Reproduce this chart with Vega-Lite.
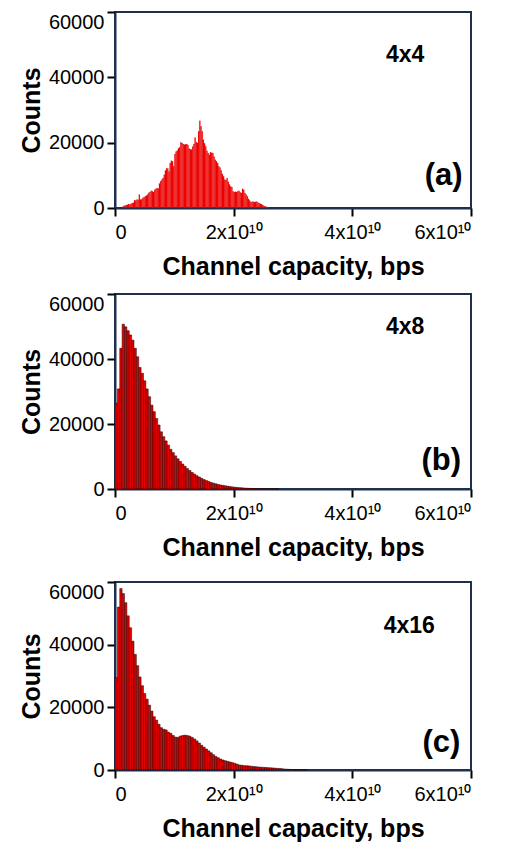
{
  "$schema": "https://vega.github.io/schema/vega-lite/v6.json",
  "padding": {"left": 18, "top": 10, "right": 0, "bottom": 0},
  "config": {
    "font": "Liberation Sans",
    "view": {"stroke": "#1f2f4f", "strokeWidth": 2},
    "axis": {
      "grid": false,
      "domainColor": "#1f2f4f",
      "domainWidth": 2,
      "tickColor": "#000000",
      "tickWidth": 2,
      "tickSize": 8,
      "labelFont": "Liberation Sans",
      "labelFontSize": 20,
      "labelColor": "#000000",
      "titleFont": "Liberation Sans",
      "titleFontSize": 25,
      "titleFontWeight": "bold",
      "titleColor": "#000000"
    },
    "axisX": {"labelPadding": 6, "titlePadding": 12},
    "axisY": {"labelPadding": 3, "titlePadding": 4}
  },
  "datasets": {
    "a": [
      {"lo": 1.2e9, "hi": 1.4e9, "n": 400}, {"lo": 1.4e9, "hi": 1.6e9, "n": 700}, {"lo": 1.6e9, "hi": 1.8e9, "n": 800}, {"lo": 1.8e9, "hi": 2.0e9, "n": 900},
      {"lo": 2.0e9, "hi": 2.2e9, "n": 1000}, {"lo": 2.2e9, "hi": 2.4e9, "n": 1200}, {"lo": 2.4e9, "hi": 2.6e9, "n": 1100}, {"lo": 2.6e9, "hi": 2.8e9, "n": 1300},
      {"lo": 2.8e9, "hi": 3.0e9, "n": 1500}, {"lo": 3.0e9, "hi": 3.2e9, "n": 1600}, {"lo": 3.2e9, "hi": 3.4e9, "n": 2400}, {"lo": 3.4e9, "hi": 3.6e9, "n": 2300},
      {"lo": 3.6e9, "hi": 3.8e9, "n": 2600}, {"lo": 3.8e9, "hi": 4.0e9, "n": 2500}, {"lo": 4.0e9, "hi": 4.2e9, "n": 4100}, {"lo": 4.2e9, "hi": 4.4e9, "n": 2600},
      {"lo": 4.4e9, "hi": 4.6e9, "n": 2700}, {"lo": 4.6e9, "hi": 4.8e9, "n": 3100}, {"lo": 4.8e9, "hi": 5.0e9, "n": 3300}, {"lo": 5.0e9, "hi": 5.2e9, "n": 3600},
      {"lo": 5.2e9, "hi": 5.4e9, "n": 3800}, {"lo": 5.4e9, "hi": 5.6e9, "n": 4100}, {"lo": 5.6e9, "hi": 5.8e9, "n": 4700}, {"lo": 5.8e9, "hi": 6.0e9, "n": 4900},
      {"lo": 6.0e9, "hi": 6.2e9, "n": 5300}, {"lo": 6.2e9, "hi": 6.4e9, "n": 5100}, {"lo": 6.4e9, "hi": 6.6e9, "n": 4900}, {"lo": 6.6e9, "hi": 6.8e9, "n": 5600},
      {"lo": 6.8e9, "hi": 7.0e9, "n": 5900}, {"lo": 7.0e9, "hi": 7.2e9, "n": 6100}, {"lo": 7.2e9, "hi": 7.4e9, "n": 6000}, {"lo": 7.4e9, "hi": 7.6e9, "n": 7500},
      {"lo": 7.6e9, "hi": 7.8e9, "n": 8200}, {"lo": 7.8e9, "hi": 8.0e9, "n": 8700}, {"lo": 8.0e9, "hi": 8.2e9, "n": 9200}, {"lo": 8.2e9, "hi": 8.4e9, "n": 10200},
      {"lo": 8.4e9, "hi": 8.6e9, "n": 11500}, {"lo": 8.6e9, "hi": 8.8e9, "n": 12200}, {"lo": 8.8e9, "hi": 9.0e9, "n": 12100}, {"lo": 9.0e9, "hi": 9.2e9, "n": 11200},
      {"lo": 9.2e9, "hi": 9.4e9, "n": 13800}, {"lo": 9.4e9, "hi": 9.6e9, "n": 14500}, {"lo": 9.6e9, "hi": 9.8e9, "n": 14300}, {"lo": 9.8e9, "hi": 10.0e9, "n": 12800},
      {"lo": 10.0e9, "hi": 10.2e9, "n": 16500}, {"lo": 10.2e9, "hi": 10.4e9, "n": 17300}, {"lo": 10.4e9, "hi": 10.6e9, "n": 17600}, {"lo": 10.6e9, "hi": 10.8e9, "n": 18300},
      {"lo": 10.8e9, "hi": 11.0e9, "n": 18600}, {"lo": 11.0e9, "hi": 11.2e9, "n": 20100}, {"lo": 11.2e9, "hi": 11.4e9, "n": 19900}, {"lo": 11.4e9, "hi": 11.6e9, "n": 19600},
      {"lo": 11.6e9, "hi": 11.8e9, "n": 19400}, {"lo": 11.8e9, "hi": 12.0e9, "n": 19500}, {"lo": 12.0e9, "hi": 12.2e9, "n": 19600}, {"lo": 12.2e9, "hi": 12.4e9, "n": 19300},
      {"lo": 12.4e9, "hi": 12.6e9, "n": 18200}, {"lo": 12.6e9, "hi": 12.8e9, "n": 18000}, {"lo": 12.8e9, "hi": 13.0e9, "n": 17900}, {"lo": 13.0e9, "hi": 13.2e9, "n": 18800},
      {"lo": 13.2e9, "hi": 13.4e9, "n": 19600}, {"lo": 13.4e9, "hi": 13.6e9, "n": 21600}, {"lo": 13.6e9, "hi": 13.8e9, "n": 20200}, {"lo": 13.8e9, "hi": 14.0e9, "n": 19900},
      {"lo": 14.0e9, "hi": 14.2e9, "n": 23500}, {"lo": 14.2e9, "hi": 14.4e9, "n": 26700}, {"lo": 14.4e9, "hi": 14.6e9, "n": 25000}, {"lo": 14.6e9, "hi": 14.8e9, "n": 23500},
      {"lo": 14.8e9, "hi": 15.0e9, "n": 20900}, {"lo": 15.0e9, "hi": 15.2e9, "n": 19800}, {"lo": 15.2e9, "hi": 15.4e9, "n": 18900}, {"lo": 15.4e9, "hi": 15.6e9, "n": 17500},
      {"lo": 15.6e9, "hi": 15.8e9, "n": 16800}, {"lo": 15.8e9, "hi": 16.0e9, "n": 16300}, {"lo": 16.0e9, "hi": 16.2e9, "n": 17100}, {"lo": 16.2e9, "hi": 16.4e9, "n": 16900},
      {"lo": 16.4e9, "hi": 16.6e9, "n": 16800}, {"lo": 16.6e9, "hi": 16.8e9, "n": 15800}, {"lo": 16.8e9, "hi": 17.0e9, "n": 14800}, {"lo": 17.0e9, "hi": 17.2e9, "n": 14300},
      {"lo": 17.2e9, "hi": 17.4e9, "n": 13800}, {"lo": 17.4e9, "hi": 17.6e9, "n": 12800}, {"lo": 17.6e9, "hi": 17.8e9, "n": 12400}, {"lo": 17.8e9, "hi": 18.0e9, "n": 11500},
      {"lo": 18.0e9, "hi": 18.2e9, "n": 10400}, {"lo": 18.2e9, "hi": 18.4e9, "n": 9700}, {"lo": 18.4e9, "hi": 18.6e9, "n": 8700}, {"lo": 18.6e9, "hi": 18.8e9, "n": 8600},
      {"lo": 18.8e9, "hi": 19.0e9, "n": 9200}, {"lo": 19.0e9, "hi": 19.2e9, "n": 8000}, {"lo": 19.2e9, "hi": 19.4e9, "n": 7200}, {"lo": 19.4e9, "hi": 19.6e9, "n": 6600},
      {"lo": 19.6e9, "hi": 19.8e9, "n": 6400}, {"lo": 19.8e9, "hi": 20.0e9, "n": 5100}, {"lo": 20.0e9, "hi": 20.2e9, "n": 4900}, {"lo": 20.2e9, "hi": 20.4e9, "n": 5000},
      {"lo": 20.4e9, "hi": 20.6e9, "n": 4900}, {"lo": 20.6e9, "hi": 20.8e9, "n": 5100}, {"lo": 20.8e9, "hi": 21.0e9, "n": 5300}, {"lo": 21.0e9, "hi": 21.2e9, "n": 4800},
      {"lo": 21.2e9, "hi": 21.4e9, "n": 4600}, {"lo": 21.4e9, "hi": 21.6e9, "n": 5900}, {"lo": 21.6e9, "hi": 21.8e9, "n": 5600}, {"lo": 21.8e9, "hi": 22.0e9, "n": 4600},
      {"lo": 22.0e9, "hi": 22.2e9, "n": 4100}, {"lo": 22.2e9, "hi": 22.4e9, "n": 3600}, {"lo": 22.4e9, "hi": 22.6e9, "n": 2800}, {"lo": 22.6e9, "hi": 22.8e9, "n": 2300},
      {"lo": 22.8e9, "hi": 23.0e9, "n": 1800}, {"lo": 23.0e9, "hi": 23.2e9, "n": 1900}, {"lo": 23.2e9, "hi": 23.4e9, "n": 2000}, {"lo": 23.4e9, "hi": 23.6e9, "n": 1800},
      {"lo": 23.6e9, "hi": 23.8e9, "n": 1900}, {"lo": 23.8e9, "hi": 24.0e9, "n": 2000}, {"lo": 24.0e9, "hi": 24.2e9, "n": 1700}, {"lo": 24.2e9, "hi": 24.4e9, "n": 1500},
      {"lo": 24.4e9, "hi": 24.6e9, "n": 1300}, {"lo": 24.6e9, "hi": 24.8e9, "n": 1200}, {"lo": 24.8e9, "hi": 25.0e9, "n": 900}, {"lo": 25.0e9, "hi": 25.2e9, "n": 700},
      {"lo": 25.2e9, "hi": 25.4e9, "n": 500}, {"lo": 25.4e9, "hi": 25.6e9, "n": 400}, {"lo": 25.6e9, "hi": 25.8e9, "n": 300}, {"lo": 25.8e9, "hi": 26.0e9, "n": 200},
      {"lo": 26.0e9, "hi": 26.2e9, "n": 100}
    ],
    "b": [
      {"lo": 0.0e9, "hi": 0.4e9, "n": 26400}, {"lo": 0.4e9, "hi": 0.8e9, "n": 30800}, {"lo": 0.8e9, "hi": 1.2e9, "n": 43300}, {"lo": 1.2e9, "hi": 1.6e9, "n": 50700},
      {"lo": 1.6e9, "hi": 2.0e9, "n": 49900}, {"lo": 2.0e9, "hi": 2.4e9, "n": 48700}, {"lo": 2.4e9, "hi": 2.8e9, "n": 47400}, {"lo": 2.8e9, "hi": 3.2e9, "n": 45800},
      {"lo": 3.2e9, "hi": 3.6e9, "n": 43300}, {"lo": 3.6e9, "hi": 4.0e9, "n": 40700}, {"lo": 4.0e9, "hi": 4.4e9, "n": 37400}, {"lo": 4.4e9, "hi": 4.8e9, "n": 35600},
      {"lo": 4.8e9, "hi": 5.2e9, "n": 33300}, {"lo": 5.2e9, "hi": 5.6e9, "n": 30800}, {"lo": 5.6e9, "hi": 6.0e9, "n": 28400}, {"lo": 6.0e9, "hi": 6.4e9, "n": 25800},
      {"lo": 6.4e9, "hi": 6.8e9, "n": 23800}, {"lo": 6.8e9, "hi": 7.2e9, "n": 21700}, {"lo": 7.2e9, "hi": 7.6e9, "n": 19700}, {"lo": 7.6e9, "hi": 8.0e9, "n": 17600},
      {"lo": 8.0e9, "hi": 8.4e9, "n": 16100}, {"lo": 8.4e9, "hi": 8.8e9, "n": 14800}, {"lo": 8.8e9, "hi": 9.2e9, "n": 13500}, {"lo": 9.2e9, "hi": 9.6e9, "n": 12200},
      {"lo": 9.6e9, "hi": 10.0e9, "n": 11200}, {"lo": 10.0e9, "hi": 10.4e9, "n": 10200}, {"lo": 10.4e9, "hi": 10.8e9, "n": 9300}, {"lo": 10.8e9, "hi": 11.2e9, "n": 8500},
      {"lo": 11.2e9, "hi": 11.6e9, "n": 7700}, {"lo": 11.6e9, "hi": 12.0e9, "n": 7000}, {"lo": 12.0e9, "hi": 12.4e9, "n": 6300}, {"lo": 12.4e9, "hi": 12.8e9, "n": 5700},
      {"lo": 12.8e9, "hi": 13.2e9, "n": 5100}, {"lo": 13.2e9, "hi": 13.6e9, "n": 4600}, {"lo": 13.6e9, "hi": 14.0e9, "n": 4100}, {"lo": 14.0e9, "hi": 14.4e9, "n": 3700},
      {"lo": 14.4e9, "hi": 14.8e9, "n": 3300}, {"lo": 14.8e9, "hi": 15.2e9, "n": 2900}, {"lo": 15.2e9, "hi": 15.6e9, "n": 2600}, {"lo": 15.6e9, "hi": 16.0e9, "n": 2300},
      {"lo": 16.0e9, "hi": 16.4e9, "n": 2000}, {"lo": 16.4e9, "hi": 16.8e9, "n": 1800}, {"lo": 16.8e9, "hi": 17.2e9, "n": 1600}, {"lo": 17.2e9, "hi": 17.6e9, "n": 1400},
      {"lo": 17.6e9, "hi": 18.0e9, "n": 1250}, {"lo": 18.0e9, "hi": 18.4e9, "n": 1100}, {"lo": 18.4e9, "hi": 18.8e9, "n": 1000}, {"lo": 18.8e9, "hi": 19.2e9, "n": 850},
      {"lo": 19.2e9, "hi": 19.6e9, "n": 750}, {"lo": 19.6e9, "hi": 20.0e9, "n": 650}, {"lo": 20.0e9, "hi": 20.4e9, "n": 550}, {"lo": 20.4e9, "hi": 20.8e9, "n": 480},
      {"lo": 20.8e9, "hi": 21.2e9, "n": 420}, {"lo": 21.2e9, "hi": 21.6e9, "n": 360}, {"lo": 21.6e9, "hi": 22.0e9, "n": 300}, {"lo": 22.0e9, "hi": 22.4e9, "n": 250},
      {"lo": 22.4e9, "hi": 22.8e9, "n": 210}, {"lo": 22.8e9, "hi": 23.2e9, "n": 170}, {"lo": 23.2e9, "hi": 23.6e9, "n": 140}, {"lo": 23.6e9, "hi": 24.0e9, "n": 110},
      {"lo": 24.0e9, "hi": 24.4e9, "n": 90}, {"lo": 24.4e9, "hi": 24.8e9, "n": 70}, {"lo": 24.8e9, "hi": 25.2e9, "n": 50}, {"lo": 25.2e9, "hi": 25.6e9, "n": 40},
      {"lo": 25.6e9, "hi": 26.0e9, "n": 30}, {"lo": 26.0e9, "hi": 26.4e9, "n": 25}, {"lo": 26.4e9, "hi": 26.8e9, "n": 20}, {"lo": 26.8e9, "hi": 27.2e9, "n": 15},
      {"lo": 27.2e9, "hi": 27.6e9, "n": 10}
    ],
    "c": [
      {"lo": 0.0e9, "hi": 0.4e9, "n": 29500}, {"lo": 0.4e9, "hi": 0.8e9, "n": 52000}, {"lo": 0.8e9, "hi": 1.2e9, "n": 57900}, {"lo": 1.2e9, "hi": 1.6e9, "n": 56300},
      {"lo": 1.6e9, "hi": 2.0e9, "n": 53400}, {"lo": 2.0e9, "hi": 2.4e9, "n": 49200}, {"lo": 2.4e9, "hi": 2.8e9, "n": 45400}, {"lo": 2.8e9, "hi": 3.2e9, "n": 41100},
      {"lo": 3.2e9, "hi": 3.6e9, "n": 36900}, {"lo": 3.6e9, "hi": 4.0e9, "n": 33300}, {"lo": 4.0e9, "hi": 4.4e9, "n": 29700}, {"lo": 4.4e9, "hi": 4.8e9, "n": 26900},
      {"lo": 4.8e9, "hi": 5.2e9, "n": 24400}, {"lo": 5.2e9, "hi": 5.6e9, "n": 22600}, {"lo": 5.6e9, "hi": 6.0e9, "n": 20700}, {"lo": 6.0e9, "hi": 6.4e9, "n": 18800},
      {"lo": 6.4e9, "hi": 6.8e9, "n": 17000}, {"lo": 6.8e9, "hi": 7.2e9, "n": 15900}, {"lo": 7.2e9, "hi": 7.6e9, "n": 14600}, {"lo": 7.6e9, "hi": 8.0e9, "n": 13500},
      {"lo": 8.0e9, "hi": 8.4e9, "n": 13000}, {"lo": 8.4e9, "hi": 8.8e9, "n": 12800}, {"lo": 8.8e9, "hi": 9.2e9, "n": 12100}, {"lo": 9.2e9, "hi": 9.6e9, "n": 11700},
      {"lo": 9.6e9, "hi": 10.0e9, "n": 11000}, {"lo": 10.0e9, "hi": 10.4e9, "n": 10500}, {"lo": 10.4e9, "hi": 10.8e9, "n": 10400}, {"lo": 10.8e9, "hi": 11.2e9, "n": 10800},
      {"lo": 11.2e9, "hi": 11.6e9, "n": 11000}, {"lo": 11.6e9, "hi": 12.0e9, "n": 11100}, {"lo": 12.0e9, "hi": 12.4e9, "n": 11000}, {"lo": 12.4e9, "hi": 12.8e9, "n": 10800},
      {"lo": 12.8e9, "hi": 13.2e9, "n": 10400}, {"lo": 13.2e9, "hi": 13.6e9, "n": 9900}, {"lo": 13.6e9, "hi": 14.0e9, "n": 9300}, {"lo": 14.0e9, "hi": 14.4e9, "n": 8600},
      {"lo": 14.4e9, "hi": 14.8e9, "n": 7900}, {"lo": 14.8e9, "hi": 15.2e9, "n": 7300}, {"lo": 15.2e9, "hi": 15.6e9, "n": 6700}, {"lo": 15.6e9, "hi": 16.0e9, "n": 6100},
      {"lo": 16.0e9, "hi": 16.4e9, "n": 5500}, {"lo": 16.4e9, "hi": 16.8e9, "n": 4900}, {"lo": 16.8e9, "hi": 17.2e9, "n": 4300}, {"lo": 17.2e9, "hi": 17.6e9, "n": 3900},
      {"lo": 17.6e9, "hi": 18.0e9, "n": 3500}, {"lo": 18.0e9, "hi": 18.4e9, "n": 3200}, {"lo": 18.4e9, "hi": 18.8e9, "n": 2950}, {"lo": 18.8e9, "hi": 19.2e9, "n": 2750},
      {"lo": 19.2e9, "hi": 19.6e9, "n": 2550}, {"lo": 19.6e9, "hi": 20.0e9, "n": 2350}, {"lo": 20.0e9, "hi": 20.4e9, "n": 2100}, {"lo": 20.4e9, "hi": 20.8e9, "n": 1850},
      {"lo": 20.8e9, "hi": 21.2e9, "n": 1600}, {"lo": 21.2e9, "hi": 21.6e9, "n": 1500}, {"lo": 21.6e9, "hi": 22.0e9, "n": 1400}, {"lo": 22.0e9, "hi": 22.4e9, "n": 1350},
      {"lo": 22.4e9, "hi": 22.8e9, "n": 1300}, {"lo": 22.8e9, "hi": 23.2e9, "n": 1200}, {"lo": 23.2e9, "hi": 23.6e9, "n": 1100}, {"lo": 23.6e9, "hi": 24.0e9, "n": 1050},
      {"lo": 24.0e9, "hi": 24.4e9, "n": 950}, {"lo": 24.4e9, "hi": 24.8e9, "n": 900}, {"lo": 24.8e9, "hi": 25.2e9, "n": 850}, {"lo": 25.2e9, "hi": 25.6e9, "n": 800},
      {"lo": 25.6e9, "hi": 26.0e9, "n": 750}, {"lo": 26.0e9, "hi": 26.4e9, "n": 700}, {"lo": 26.4e9, "hi": 26.8e9, "n": 650}, {"lo": 26.8e9, "hi": 27.2e9, "n": 580},
      {"lo": 27.2e9, "hi": 27.6e9, "n": 520}, {"lo": 27.6e9, "hi": 28.0e9, "n": 480}, {"lo": 28.0e9, "hi": 28.4e9, "n": 400}, {"lo": 28.4e9, "hi": 28.8e9, "n": 300},
      {"lo": 28.8e9, "hi": 29.2e9, "n": 250}, {"lo": 29.2e9, "hi": 29.6e9, "n": 200}, {"lo": 29.6e9, "hi": 30.0e9, "n": 160}, {"lo": 30.0e9, "hi": 30.4e9, "n": 130},
      {"lo": 30.4e9, "hi": 30.8e9, "n": 100}, {"lo": 30.8e9, "hi": 31.2e9, "n": 80}, {"lo": 31.2e9, "hi": 31.6e9, "n": 60}, {"lo": 31.6e9, "hi": 32.0e9, "n": 40},
      {"lo": 32.0e9, "hi": 32.4e9, "n": 30}
    ]
  },
  "spacing": 12,
  "vconcat": [
    {
      "width": 356,
      "height": 196,
      "layer": [
        {
          "data": {"name": "a"},
          "mark": {"type": "rect", "fill": "#ff0000", "stroke": "#700000", "strokeWidth": 0.2, "strokeOpacity": 0.5},
          "encoding": {
            "x": {"field": "lo", "type": "quantitative", "scale": {"domain": [0, 60000000000], "nice": false}, "title": "Channel capacity, bps",
                  "axis": {"values": [0, 20000000000, 40000000000, 60000000000], "labelExpr": "datum.value == 0 ? '0' : format(datum.value / 1e10, 'd') + 'x10¹⁰'"}},
            "x2": {"field": "hi"},
            "y": {"field": "n", "type": "quantitative", "scale": {"domain": [0, 60000], "nice": false}, "title": "Counts",
                  "axis": {"values": [0, 20000, 40000, 60000], "format": "d", "labelBaseline": {"condition": {"test": "datum.value == 60000", "value": "top"}, "value": "middle"}}},
            "y2": {"datum": 0}
          }
        },
        {
          "data": {"values": [{"px": 48900000000, "py": 46700, "t": "4x4"}]},
          "mark": {"type": "text", "fontWeight": "bold", "fontSize": 23, "font": "Liberation Sans", "color": "#000000"},
          "encoding": {"x": {"field": "px", "type": "quantitative"}, "y": {"field": "py", "type": "quantitative"}, "text": {"field": "t"}}
        },
        {
          "data": {"values": [{"px": 55400000000, "py": 9900, "t": "(a)"}]},
          "mark": {"type": "text", "fontWeight": "bold", "fontSize": 31, "font": "Liberation Sans", "color": "#000000"},
          "encoding": {"x": {"field": "px", "type": "quantitative"}, "y": {"field": "py", "type": "quantitative"}, "text": {"field": "t"}}
        }
      ]
    },
    {
      "spacing": 19,
      "vconcat": [
        {
          "width": 356,
          "height": 195,
          "layer": [
            {
              "data": {"name": "b"},
              "mark": {"type": "rect", "fill": "#e40000", "stroke": "#200000", "strokeWidth": 0.5},
              "encoding": {
                "x": {"field": "lo", "type": "quantitative", "scale": {"domain": [0, 60000000000], "nice": false}, "title": "Channel capacity, bps",
                      "axis": {"values": [0, 20000000000, 40000000000, 60000000000], "labelExpr": "datum.value == 0 ? '0' : format(datum.value / 1e10, 'd') + 'x10¹⁰'"}},
                "x2": {"field": "hi"},
                "y": {"field": "n", "type": "quantitative", "scale": {"domain": [0, 60000], "nice": false}, "title": "Counts",
                      "axis": {"values": [0, 20000, 40000, 60000], "format": "d", "labelBaseline": {"condition": {"test": "datum.value == 60000", "value": "top"}, "value": "middle"}}},
                "y2": {"datum": 0}
              }
            },
            {
              "data": {"values": [{"px": 48900000000, "py": 49800, "t": "4x8"}]},
              "mark": {"type": "text", "fontWeight": "bold", "fontSize": 23, "font": "Liberation Sans", "color": "#000000"},
              "encoding": {"x": {"field": "px", "type": "quantitative"}, "y": {"field": "py", "type": "quantitative"}, "text": {"field": "t"}}
            },
            {
              "data": {"values": [{"px": 55000000000, "py": 8500, "t": "(b)"}]},
              "mark": {"type": "text", "fontWeight": "bold", "fontSize": 31, "font": "Liberation Sans", "color": "#000000"},
              "encoding": {"x": {"field": "px", "type": "quantitative"}, "y": {"field": "py", "type": "quantitative"}, "text": {"field": "t"}}
            }
          ]
        },
        {
          "width": 356,
          "height": 188,
          "layer": [
            {
              "data": {"name": "c"},
              "mark": {"type": "rect", "fill": "#e40000", "stroke": "#200000", "strokeWidth": 0.5},
              "encoding": {
                "x": {"field": "lo", "type": "quantitative", "scale": {"domain": [0, 60000000000], "nice": false}, "title": "Channel capacity, bps",
                      "axis": {"values": [0, 20000000000, 40000000000, 60000000000], "labelExpr": "datum.value == 0 ? '0' : format(datum.value / 1e10, 'd') + 'x10¹⁰'"}},
                "x2": {"field": "hi"},
                "y": {"field": "n", "type": "quantitative", "scale": {"domain": [0, 60000], "nice": false}, "title": "Counts",
                      "axis": {"values": [0, 20000, 40000, 60000], "format": "d", "labelBaseline": {"condition": {"test": "datum.value == 60000", "value": "top"}, "value": "middle"}}},
                "y2": {"datum": 0}
              }
            },
            {
              "data": {"values": [{"px": 49600000000, "py": 45800, "t": "4x16"}]},
              "mark": {"type": "text", "fontWeight": "bold", "fontSize": 23, "font": "Liberation Sans", "color": "#000000"},
              "encoding": {"x": {"field": "px", "type": "quantitative"}, "y": {"field": "py", "type": "quantitative"}, "text": {"field": "t"}}
            },
            {
              "data": {"values": [{"px": 55000000000, "py": 8700, "t": "(c)"}]},
              "mark": {"type": "text", "fontWeight": "bold", "fontSize": 31, "font": "Liberation Sans", "color": "#000000"},
              "encoding": {"x": {"field": "px", "type": "quantitative"}, "y": {"field": "py", "type": "quantitative"}, "text": {"field": "t"}}
            }
          ]
        }
      ]
    }
  ]
}
